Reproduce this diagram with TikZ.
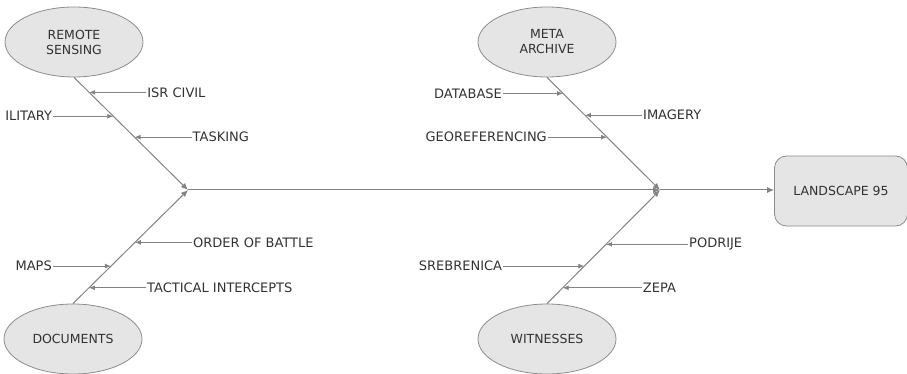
\documentclass[tikz,border=0pt]{standalone}
\usepackage{fontspec}
\setmainfont{DejaVu Sans}
\usetikzlibrary{shapes.geometric,arrows.meta,calc}
\definecolor{linec}{RGB}{130,130,130}
\definecolor{fillc}{RGB}{229,229,229}
\definecolor{edgec}{RGB}{140,140,140}
\definecolor{textc}{RGB}{50,50,50}
\tikzset{
  cause/.style={ellipse,draw=edgec,fill=fillc,line width=0.8pt,minimum width=138pt,minimum height=70pt,inner sep=0pt,align=center,text=textc,font=\fontsize{12.5}{15}\selectfont},
  effect/.style={rectangle,rounded corners=12pt,draw=edgec,fill=fillc,line width=0.8pt,minimum width=133pt,minimum height=70pt,text=textc,font=\fontsize{12.5}{15}\selectfont},
  lbl/.style={inner sep=1pt,text=textc,font=\fontsize{13}{15}\selectfont},
  arr/.style={draw=linec,line width=0.9pt,-{Latex[length=6pt,width=5pt]}},
  bone/.style={draw=linec,line width=1pt,-{Latex[length=7pt,width=6pt]}}
}
\begin{document}
\begin{tikzpicture}[x=1pt,y=-1pt]
\useasboundingbox (0,0) rectangle (907,374);
% causes
\node[cause] (rs) at (74,42) {REMOTE\\SENSING};
\node[cause] (doc) at (73,339) {DOCUMENTS};
\node[cause] (meta) at (547,42) {META\\ARCHIVE};
\node[cause] (wit) at (547,339) {WITNESSES};
\node[effect] (land) at (841,191) {LANDSCAPE 95};
% junctions
\coordinate (j1) at (188,190);
\coordinate (j2) at (660,190);
% main bones
\draw[bone] (rs.south) -- (j1);
\draw[bone] (doc.north) -- (j1);
\draw[bone] (meta.south) -- (j2);
\draw[bone] (wit.north) -- (j2);
\draw[bone] (j1) -- (j2);
\draw[bone] (j2) -- (land.west |- j2);
% points on bones
\coordinate (pa) at ($(rs.south)!0.133!(j1)$);
\coordinate (pb) at ($(rs.south)!0.345!(j1)$);
\coordinate (pc) at ($(rs.south)!0.531!(j1)$);
\coordinate (pd) at ($(doc.north)!0.539!(j1)$);
\coordinate (pe) at ($(doc.north)!0.330!(j1)$);
\coordinate (pf) at ($(doc.north)!0.139!(j1)$);
\coordinate (pg) at ($(meta.south)!0.142!(j2)$);
\coordinate (ph) at ($(meta.south)!0.336!(j2)$);
\coordinate (pi) at ($(meta.south)!0.531!(j2)$);
\coordinate (pj) at ($(wit.north)!0.522!(j2)$);
\coordinate (pk) at ($(wit.north)!0.330!(j2)$);
\coordinate (pl) at ($(wit.north)!0.139!(j2)$);
% labels
\node[lbl,anchor=west] (isr) at ([xshift=57]pa) {ISR CIVIL};
\node[lbl,anchor=east] (mil) at ([xshift=-60]pb) {ILITARY};
\node[lbl,anchor=west] (task) at ([xshift=57]pc) {TASKING};
\node[lbl,anchor=west] (oob) at ([xshift=57]pd) {ORDER OF BATTLE};
\node[lbl,anchor=east] (maps) at ([xshift=-58]pe) {MAPS};
\node[lbl,anchor=west] (tact) at ([xshift=57]pf) {TACTICAL INTERCEPTS};
\node[lbl,anchor=east] (db) at ([xshift=-60]pg) {DATABASE};
\node[lbl,anchor=west] (img) at ([xshift=57]ph) {IMAGERY};
\node[lbl,anchor=east] (geo) at ([xshift=-59]pi) {GEOREFERENCING};
\node[lbl,anchor=west] (pod) at ([xshift=82]pj) {PODRIJE};
\node[lbl,anchor=east] (sre) at ([xshift=-81]pk) {SREBRENICA};
\node[lbl,anchor=west] (zep) at ([xshift=79]pl) {ZEPA};
% small arrows
\draw[arr] (isr.west) -- (pa);
\draw[arr] (mil.east) -- (pb);
\draw[arr] (task.west) -- (pc);
\draw[arr] (oob.west) -- (pd);
\draw[arr] (maps.east) -- (pe);
\draw[arr] (tact.west) -- (pf);
\draw[arr] (db.east) -- (pg);
\draw[arr] (img.west) -- (ph);
\draw[arr] (geo.east) -- (pi);
\draw[arr] (pod.west) -- (pj);
\draw[arr] (sre.east) -- (pk);
\draw[arr] (zep.west) -- (pl);
\end{tikzpicture}
\end{document}
